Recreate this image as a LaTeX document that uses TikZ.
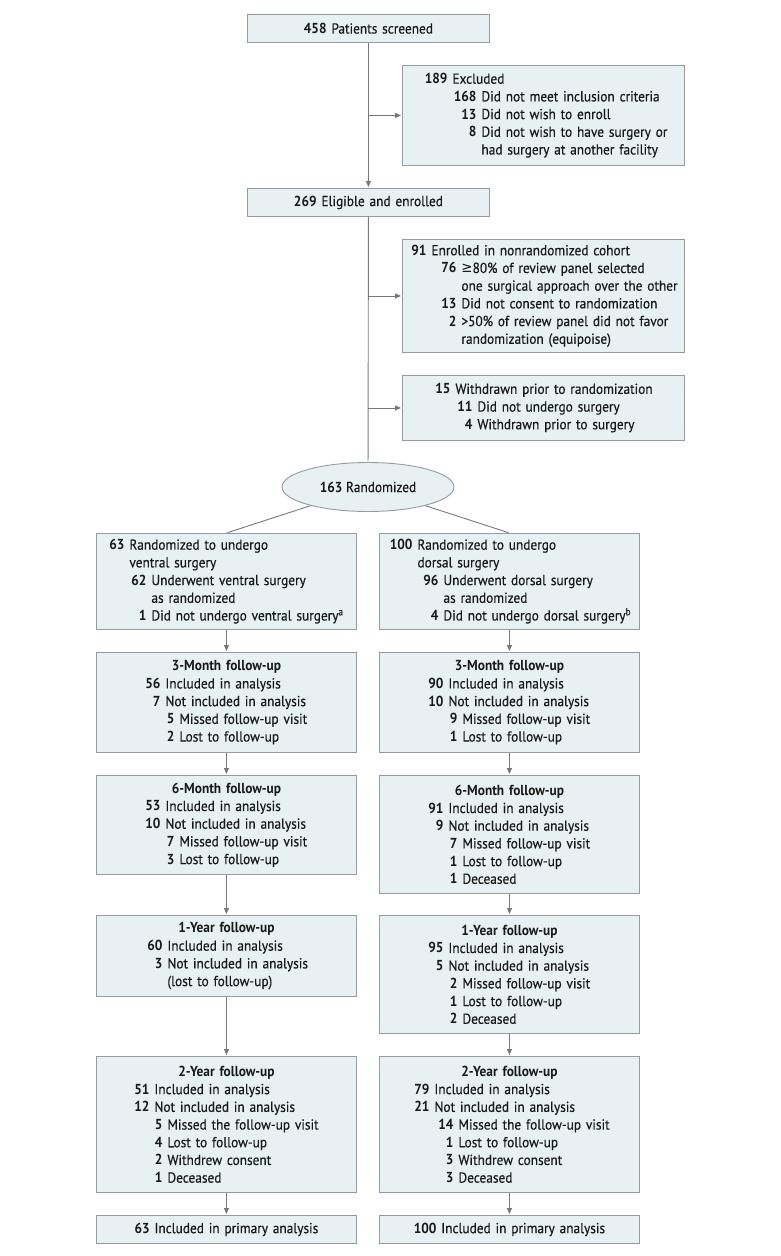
\documentclass[tikz,border=0pt]{standalone}
\usepackage{fontspec}
\setmainfont{PT Sans}[FakeStretch=0.92, UprightFeatures={FakeBold=0.4}]
\newfontfamily\symf{DejaVu Sans}[FakeStretch=0.92]
\usetikzlibrary{arrows.meta,shapes.geometric}
\definecolor{boxfill}{RGB}{231,241,243}
\definecolor{boxline}{RGB}{150,155,157}
\definecolor{conn}{RGB}{120,120,120}
\definecolor{ink}{RGB}{25,25,25}
% one line of a box: number ends at #1pt, text follows
\newcommand{\ent}[3]{\leavevmode\rlap{\hspace*{#1pt}\llap{\bfseries #2}\hspace{5pt}#3}}
\newcommand{\ttl}[1]{\leavevmode\makebox[\hsize][c]{\bfseries #1}}
\begin{document}
\begin{tikzpicture}[x=1pt,y=-1pt,
		>={Triangle[length=6pt,width=5pt]},
		box/.style={draw=boxline, fill=boxfill, line width=0.9pt, anchor=north west,
			inner xsep=0pt, inner ysep=0pt, align=left, text=ink,
			font=\fontsize{14.5}{17.7}\selectfont},
		cbox/.style={box, align=center},
		conn/.style={draw=conn, line width=0.9pt, shorten >=1pt}]
		\useasboundingbox (0,0) rectangle (780,1256);
		
		\node[cbox, text width=242pt, minimum height=28pt] (Scr) at (247,14) {\textbf{458}\ Patients screened};
		\node[box, text width=282pt, minimum height=100pt] (Exc) at (402,65) {%
			\ent{45}{189}{Excluded}\\
			\ent{74}{168}{Did not meet inclusion criteria}\\
			\ent{74}{13}{Did not wish to enroll}\\
			\ent{74}{8}{Did not wish to have surgery or}\\
			\ent{74}{}{had surgery at another facility}};
		\node[cbox, text width=242pt, minimum height=28pt] (Elig) at (247,188) {\textbf{269}\ Eligible and enrolled};
		\node[box, text width=282pt, minimum height=113pt] (Nonr) at (402,239) {%
			\ent{24}{91}{Enrolled in nonrandomized cohort}\\
			\ent{54}{76}{{\symf ≥}80\% of review panel selected}\\
			\ent{54}{}{one surgical approach over the other}\\
			\ent{54}{13}{Did not consent to randomization}\\
			\ent{54}{2}{>50\% of review panel did not favor}\\
			\ent{54}{}{randomization (equipoise)}};
		\node[box, text width=282pt, minimum height=65pt] (Wdr) at (402,375) {%
			\ent{48}{15}{Withdrawn prior to randomization}\\
			\ent{70}{11}{Did not undergo surgery}\\
			\ent{70}{4}{Withdrawn prior to surgery}};
		\node[draw=boxline, fill=boxfill, line width=0.9pt, ellipse, text=ink,
			minimum width=172pt, minimum height=49pt, inner sep=0pt,
			font=\fontsize{14.5}{17.7}\selectfont] (Rand) at (368,487) {\textbf{163}\ Randomized};
		
		\node[box, text width=260pt, minimum height=96pt] (Vent) at (96,533) {%
			\ent{28}{63}{Randomized to undergo}\\
			\ent{28}{}{ventral surgery}\\
			\ent{50}{62}{Underwent ventral surgery}\\
			\ent{50}{}{as randomized}\\
			\ent{50}{1}{Did not undergo ventral surgery\textsuperscript{a}}};
		\node[box, text width=260pt, minimum height=96pt] (Dors) at (379,533) {%
			\ent{33}{100}{Randomized to undergo}\\
			\ent{33}{}{dorsal surgery}\\
			\ent{59}{96}{Underwent dorsal surgery}\\
			\ent{59}{}{as randomized}\\
			\ent{59}{4}{Did not undergo dorsal surgery\textsuperscript{b}}};
		
		\node[box, text width=260pt, minimum height=100pt] (L3) at (96,652) {%
			\ttl{3-Month follow-up}\\
			\ent{64}{56}{Included in analysis}\\
			\ent{64}{7}{Not included in analysis}\\
			\ent{78}{5}{Missed follow-up visit}\\
			\ent{78}{2}{Lost to follow-up}};
		\node[box, text width=260pt, minimum height=100pt] (R3) at (379,652) {%
			\ttl{3-Month follow-up}\\
			\ent{64}{90}{Included in analysis}\\
			\ent{64}{10}{Not included in analysis}\\
			\ent{78}{9}{Missed follow-up visit}\\
			\ent{78}{1}{Lost to follow-up}};
		
		\node[box, text width=260pt, minimum height=99pt] (L6) at (96,775) {%
			\ttl{6-Month follow-up}\\
			\ent{64}{53}{Included in analysis}\\
			\ent{64}{10}{Not included in analysis}\\
			\ent{78}{7}{Missed follow-up visit}\\
			\ent{78}{3}{Lost to follow-up}};
		\node[box, text width=260pt, minimum height=118pt] (R6) at (379,775) {%
			\ttl{6-Month follow-up}\\
			\ent{64}{91}{Included in analysis}\\
			\ent{64}{9}{Not included in analysis}\\
			\ent{78}{7}{Missed follow-up visit}\\
			\ent{78}{1}{Lost to follow-up}\\
			\ent{78}{1}{Deceased}};
		
		\node[box, text width=260pt, minimum height=81pt] (L12) at (96,915) {%
			\ttl{1-Year follow-up}\\
			\ent{66}{60}{Included in analysis}\\
			\ent{66}{3}{Not included in analysis}\\
			\ent{66}{}{(lost to follow-up)}};
		\node[box, text width=260pt, minimum height=118pt] (R12) at (379,915) {%
			\ttl{1-Year follow-up}\\
			\ent{64}{95}{Included in analysis}\\
			\ent{64}{5}{Not included in analysis}\\
			\ent{78}{2}{Missed follow-up visit}\\
			\ent{78}{1}{Lost to follow-up}\\
			\ent{78}{2}{Deceased}};
		
		\node[box, text width=260pt, minimum height=136pt] (L24) at (96,1056) {%
			\ttl{2-Year follow-up}\\
			\ent{53}{51}{Included in analysis}\\
			\ent{53}{12}{Not included in analysis}\\
			\ent{66}{5}{Missed the follow-up visit}\\
			\ent{66}{4}{Lost to follow-up}\\
			\ent{66}{2}{Withdrew consent}\\
			\ent{66}{1}{Deceased}};
		\node[box, text width=260pt, minimum height=136pt] (R24) at (379,1056) {%
			\ttl{2-Year follow-up}\\
			\ent{50}{79}{Included in analysis}\\
			\ent{50}{21}{Not included in analysis}\\
			\ent{74}{14}{Missed the follow-up visit}\\
			\ent{74}{1}{Lost to follow-up}\\
			\ent{74}{3}{Withdrew consent}\\
			\ent{74}{3}{Deceased}};
		
		\node[cbox, text width=260pt, minimum height=28pt] (LP) at (96,1215) {\textbf{63}\ Included in primary analysis};
		\node[cbox, text width=260pt, minimum height=28pt] (RP) at (379,1215) {\textbf{100}\ Included in primary analysis};
		
		% side branches off the main line
		\coordinate (J1) at (Scr.south |- Exc.west);
		\coordinate (J2) at (Scr.south |- Nonr.west);
		\coordinate (J3) at (Scr.south |- Wdr.west);
		
		\draw [conn, ->] (Scr) -- (Elig);
		\draw [conn, ->] (J1) -- (Exc);
		\draw [conn, ->] (J2) -- (Nonr);
		\draw [conn, ->] (J3) -- (Wdr);
		\draw [conn] (Elig) -- (Rand);
		\draw [conn] (Rand) -- (Vent.north);
		\draw [conn] (Rand) -- (Dors.north);
		
		\draw [conn, ->] (Vent) -- (L3);
		\draw [conn, ->] (L3) -- (L6);
		\draw [conn, ->] (L6) -- (L12);
		\draw [conn, ->] (L12) -- (L24);
		\draw [conn, ->] (L24) -- (LP);
		\draw [conn, ->] (Dors) -- (R3);
		\draw [conn, ->] (R3) -- (R6);
		\draw [conn, ->] (R6) -- (R12);
		\draw [conn, ->] (R12) -- (R24);
		\draw [conn, ->] (R24) -- (RP);
		\end{tikzpicture}
\end{document}
